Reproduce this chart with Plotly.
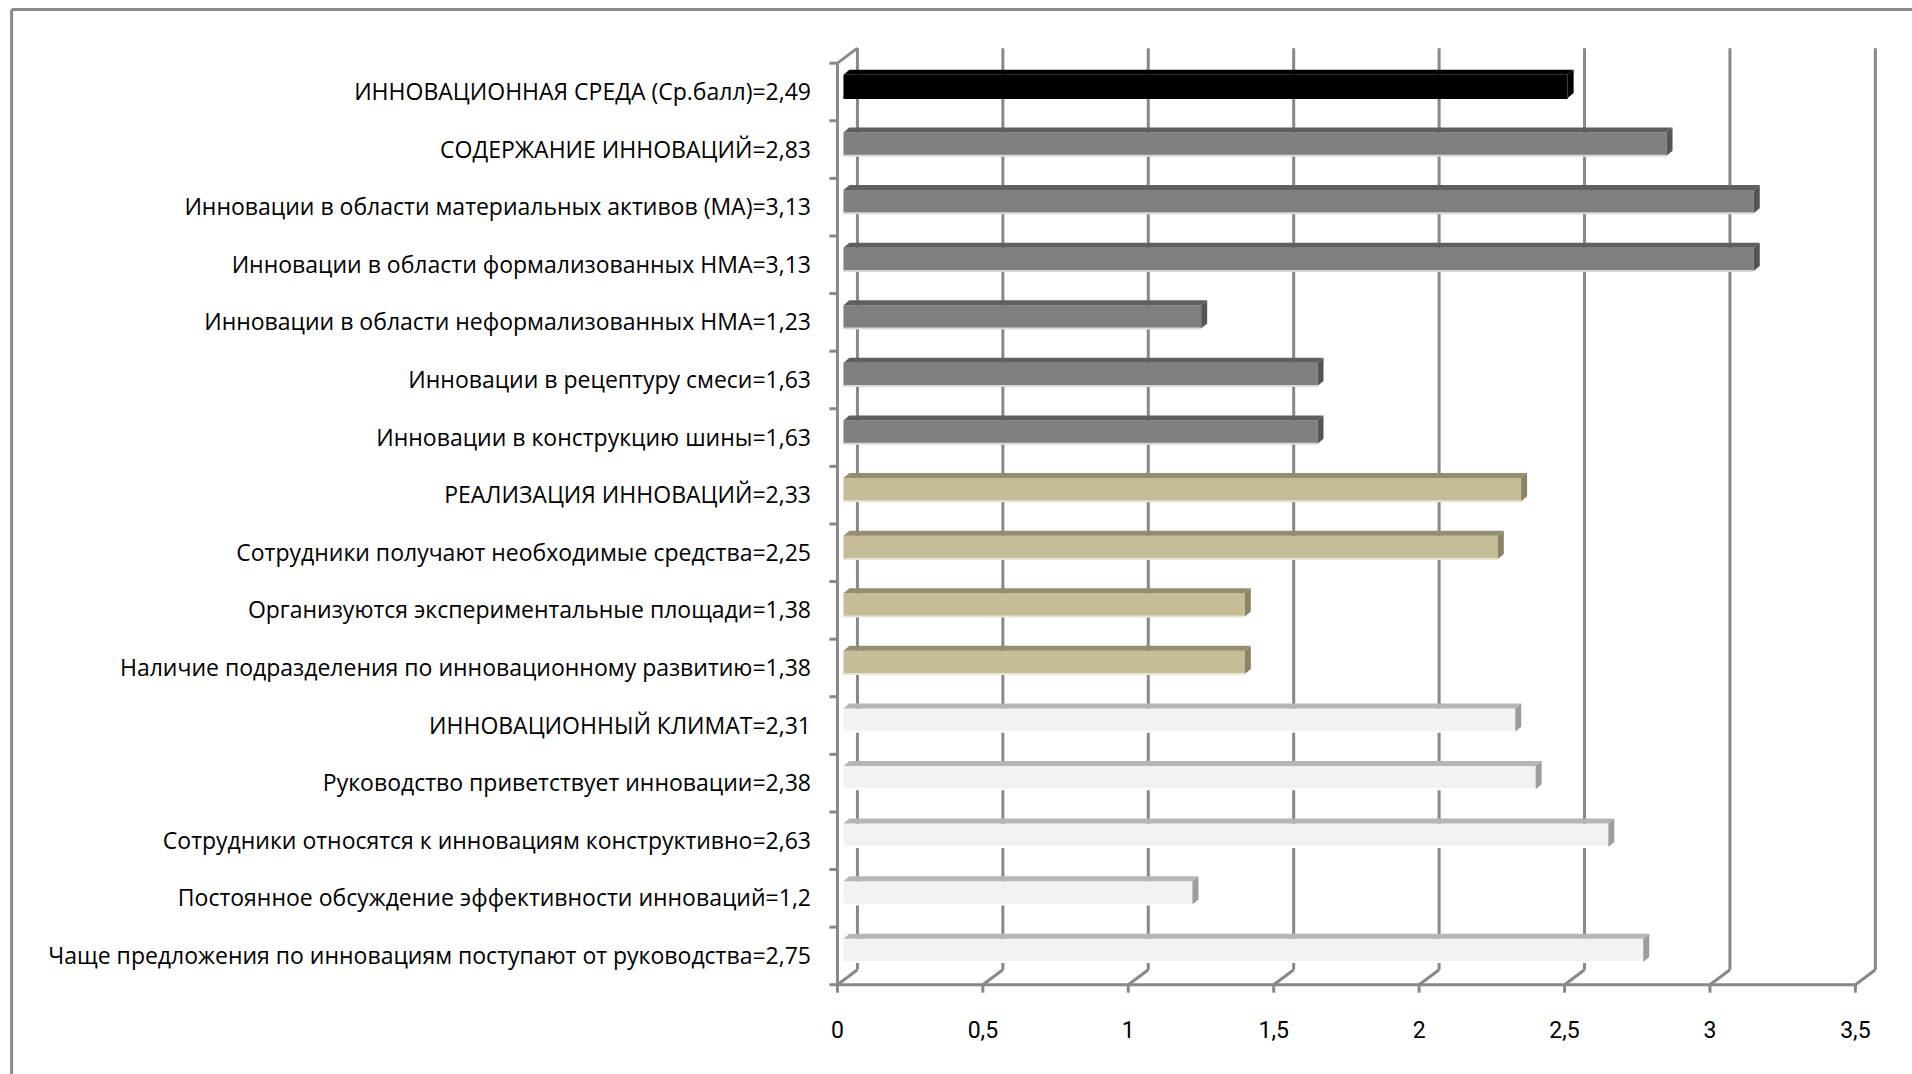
import plotly.graph_objects as go

# ---- data -------------------------------------------------------------
names = [
    "ИННОВАЦИОННАЯ СРЕДА (Ср.балл)",
    "СОДЕРЖАНИЕ ИННОВАЦИЙ",
    "Инновации в области материальных активов (МА)",
    "Инновации в области формализованных НМА",
    "Инновации в области неформализованных НМА",
    "Инновации в рецептуру смеси",
    "Инновации в конструкцию шины",
    "РЕАЛИЗАЦИЯ ИННОВАЦИЙ",
    "Сотрудники получают необходимые средства",
    "Организуются экспериментальные площади",
    "Наличие подразделения по инновационному развитию",
    "ИННОВАЦИОННЫЙ КЛИМАТ",
    "Руководство приветствует инновации",
    "Сотрудники относятся к инновациям конструктивно",
    "Постоянное обсуждение эффективности инноваций",
    "Чаще предложения по инновациям поступают от руководства",
]
values = [2.49, 2.83, 3.13, 3.13, 1.23, 1.63, 1.63,
          2.33, 2.25, 1.38, 1.38,
          2.31, 2.38, 2.63, 1.2, 2.75]
groups = [0, 1, 1, 1, 1, 1, 1, 2, 2, 2, 2, 3, 3, 3, 3, 3]
x_ticks = [0, 0.5, 1, 1.5, 2, 2.5, 3, 3.5]

# face colours per group: (front, top, side)
palette = {
    0: ("#000000", "#000000", "#000000"),
    1: ("#7f7f7f", "#5f5f5f", "#555555"),
    2: ("#c4bd97", "#958d6f", "#8a8466"),
    3: ("#f2f2f2", "#b6b6b6", "#9c9c9c"),
}
edge_light = {0: "#000000", 1: "#d9d9d9", 2: "#e8e4d4", 3: "#ffffff"}

labels = [f"{n}={str(v).replace('.', ',')}" for n, v in zip(names, values)]

# ---- geometry ---------------------------------------------------------
W, H = 1912, 1074
X0_PX, PX_PER_X = 837.3, 291.0      # front-plane x = 0 and scale
Y0_PX, PX_PER_Y = 985.0, 57.64      # floor front edge and category pitch
x_range = [-0.06, 3.65]
y_range = [-0.3, 16.35]

margin_l = X0_PX + x_range[0] * PX_PER_X
plot_w = (x_range[1] - x_range[0]) * PX_PER_X
margin_r = W - margin_l - plot_w
margin_t = Y0_PX - y_range[1] * PX_PER_Y
margin_b = H - (Y0_PX - y_range[0] * PX_PER_Y)
plot_h = H - margin_t - margin_b


def dx(px):
    return px / PX_PER_X


def dy(px):
    return px / PX_PER_Y


n = len(values)
WX, WY = dx(20), dy(15)          # depth of the walls
BX, BY = dx(6), dy(4.5)          # shift of the bar front faces
DX, DY = dx(6), dy(5)            # depth of the bars
face_lo, face_hi = 0.393, 0.797  # front face within a category band

axis_col = "#888888"
axis_w = 3

band = [n - 1 - i for i in range(n)]
centers = [b + 0.5 for b in band]

fig = go.Figure()

# front faces of the bars
for g in sorted(palette):
    idx = [i for i in range(n) if groups[i] == g]
    fig.add_trace(go.Bar(
        orientation="h",
        x=[values[i] for i in idx],
        y=[band[i] + (face_lo + face_hi) / 2 for i in idx],
        base=[BX] * len(idx),
        width=face_hi - face_lo,
        marker=dict(color=palette[g][0], line=dict(width=0)),
        showlegend=False,
        hoverinfo="skip",
    ))

shapes = []


def line(x0, y0, x1, y1, layer="below", color=axis_col, width=axis_w):
    shapes.append(dict(type="line", xref="x", yref="y",
                       x0=x0, y0=y0, x1=x1, y1=y1, layer=layer,
                       line=dict(color=color, width=width)))


# back wall gridlines and floor diagonals
for t in x_ticks:
    line(t + WX, WY, t + WX, n + WY)
    line(t, 0, t + WX, WY)
    line(t, 0, t, -dy(8))
# front axis line
line(0, 0, x_ticks[-1], 0)
# left wall with its category ticks
line(0, 0, 0, n)
for k in range(n + 1):
    line(-dx(8), k, 0, k)
line(0, n, WX, n + WY)

# top and side faces of the bars
for i in range(n):
    v = values[i]
    front, top, side = palette[groups[i]]
    lo = band[i] + face_lo
    hi = band[i] + face_hi
    xl, xr = BX, BX + v
    shapes.append(dict(
        type="path", xref="x", yref="y", layer="above",
        path=f"M {xl},{hi} L {xr},{hi} L {xr + DX},{hi + DY} L {xl + DX},{hi + DY} Z",
        fillcolor=top, line=dict(width=0)))
    shapes.append(dict(
        type="path", xref="x", yref="y", layer="above",
        path=f"M {xr},{lo} L {xr},{hi} L {xr + DX},{hi + DY} L {xr + DX},{lo + DY} Z",
        fillcolor=side, line=dict(width=0)))
    # thin light edge under the front face
    shapes.append(dict(
        type="line", xref="x", yref="y", layer="above",
        x0=xl, x1=xr, y0=lo, y1=lo,
        line=dict(color=edge_light[groups[i]], width=2)))

# outer frame of the chart area (top and left edges)
fx = (11 - margin_l) / plot_w
fy = (H - margin_b - 9) / plot_h
shapes.append(dict(type="line", xref="paper", yref="paper",
                   x0=fx, y0=fy, x1=(W + 10 - margin_l) / plot_w, y1=fy,
                   line=dict(color="#8a8a8a", width=3)))
shapes.append(dict(type="line", xref="paper", yref="paper",
                   x0=fx, y0=fy, x1=fx, y1=-(margin_b + 10) / plot_h,
                   line=dict(color="#8a8a8a", width=3)))

fig.update_layout(
    width=W, height=H,
    margin=dict(l=margin_l, r=margin_r, t=margin_t, b=margin_b, pad=0),
    paper_bgcolor="white", plot_bgcolor="white",
    barmode="overlay",
    shapes=shapes,
    xaxis=dict(range=x_range, tickvals=x_ticks,
               ticktext=[str(t).replace(".", ",") if t % 1 else str(int(t)) for t in x_ticks],
               showgrid=False, zeroline=False, showline=False, ticks="",
               ticklabelstandoff=12,
               tickfont=dict(family="Roboto", size=23, color="black")),
    yaxis=dict(range=y_range, tickvals=centers, ticktext=labels,
               showgrid=False, zeroline=False, showline=False, ticks="",
               ticklabelstandoff=8,
               tickfont=dict(family="Open Sans", size=23, color="black")),
    font=dict(family="Open Sans"),
)

fig.write_html("out.html")
